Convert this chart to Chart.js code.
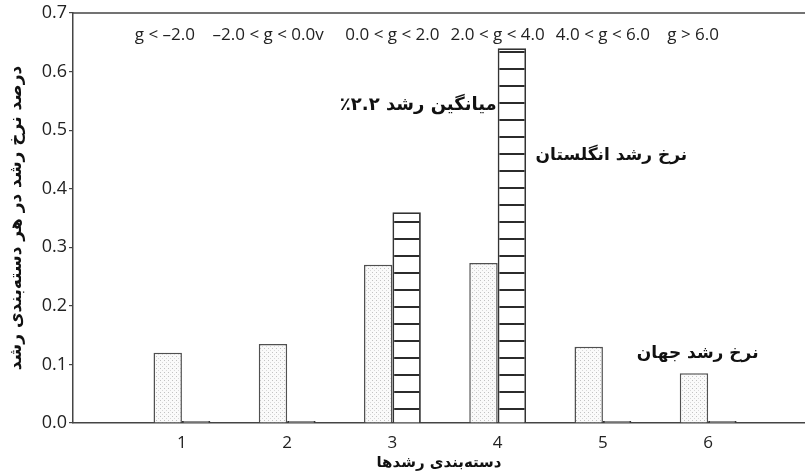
<!DOCTYPE html>
<html><head><meta charset="utf-8">
<script src="https://cdn.jsdelivr.net/npm/chart.js@4.4.1/dist/chart.umd.min.js"></script>
<style>html,body{margin:0;padding:0;background:#fff}#wrap{width:805px;height:474px;position:relative}canvas{display:block}</style>
</head><body><div id="wrap"><canvas id="c" width="805" height="474"></canvas></div>
<script>
// ---- data ----
const categories = [1, 2, 3, 4, 5, 6];
const tickLabels = ['1', '2', '3', '4', '5', '6'];
const rangeLabels = ['g < –2.0', '–2.0 < g < 0.0v', '0.0 < g < 2.0', '2.0 < g < 4.0', '4.0 < g < 6.0', 'g > 6.0'];
const worldShare = [0.12, 0.135, 0.27, 0.273, 0.13, 0.085];
const ukShare = [0, 0, 0.36, 0.64, 0, 0];
const yTickValues = [0, 0.1, 0.2, 0.3, 0.4, 0.5, 0.6, 0.7];
const yTitle = 'درصد نرخ رشد در هر دسته‌بندی رشد';
const xTitle = 'دسته‌بندی رشدها';
const averageLabel = 'میانگین رشد ۲.۲٪';
const ukLabel = 'نرخ رشد انگلستان';
const worldLabel = 'نرخ رشد جهان';

// ---- fill patterns ----
function stipple() {
  const c = document.createElement('canvas'); c.width = 4; c.height = 4;
  const g = c.getContext('2d');
  g.fillStyle = '#fafafa'; g.fillRect(0, 0, 4, 4);
  g.fillStyle = '#c2c2c2'; g.fillRect(0, 0, 1, 1);
  g.fillStyle = '#d8d8d8'; g.fillRect(2, 2, 1, 1);
  return g.createPattern(c, 'repeat');
}
function hatch() {
  const c = document.createElement('canvas'); c.width = 8; c.height = 17;
  const g = c.getContext('2d');
  g.fillStyle = '#ffffff'; g.fillRect(0, 0, 8, 17);
  g.fillStyle = '#2b2b2b'; g.fillRect(0, 0, 8, 2);
  return g.createPattern(c, 'repeat');
}

const AR = '"DejaVu Sans", sans-serif';
const LAT = '"Open Sans", sans-serif';
// small horizontal nudges (px) so the range captions don't collide
const rangeNudge = [-17, -19, 0, 0, 0, -15];

const annotationPlugin = {
  id: 'annots',
  afterDatasetsDraw(chart) {
    const {ctx, chartArea, scales: {x, y}} = chart;
    ctx.save();
    ctx.strokeStyle = '#444'; ctx.lineWidth = 1.5;
    ctx.beginPath(); ctx.moveTo(chartArea.left, chartArea.top); ctx.lineTo(chartArea.right, chartArea.top); ctx.stroke();
    ctx.fillStyle = '#222';
    ctx.font = '17px ' + LAT;
    ctx.textAlign = 'center'; ctx.textBaseline = 'middle';
    categories.forEach((c, i) => ctx.fillText(rangeLabels[i], x.getPixelForValue(c) + rangeNudge[i], y.getPixelForValue(0.663)));
    ctx.direction = 'rtl';
    ctx.fillStyle = '#111';
    ctx.font = 'bold 18px ' + AR;
    ctx.textAlign = 'right';
    ctx.fillText(averageLabel, x.getPixelForValue(4) - 1, y.getPixelForValue(0.542));
    ctx.font = 'bold 17px ' + AR;
    ctx.textAlign = 'center';
    ctx.fillText(ukLabel, x.getPixelForValue(5.08), y.getPixelForValue(0.457));
    ctx.fillText(worldLabel, x.getPixelForValue(5.9), y.getPixelForValue(0.119));
    ctx.restore();
  }
};

new Chart(document.getElementById('c'), {
  type: 'bar',
  data: {
    datasets: [
      {
        label: worldLabel,
        data: categories.map((c, i) => ({x: c, y: worldShare[i]})),
        backgroundColor: stipple(),
        borderColor: '#505050', borderWidth: 1.5, borderSkipped: 'bottom',
        categoryPercentage: 0.54, barPercentage: 1.0
      },
      {
        label: ukLabel,
        data: categories.map((c, i) => ({x: c, y: ukShare[i]})),
        backgroundColor: hatch(),
        borderColor: '#333', borderWidth: 1.8, borderSkipped: 'bottom',
        minBarLength: 2,
        categoryPercentage: 0.54, barPercentage: 1.0
      }
    ]
  },
  options: {
    responsive: false, animation: false,
    devicePixelRatio: 1,
    layout: {padding: {top: 13, right: 0, left: 0, bottom: 0}},
    plugins: {legend: {display: false}, tooltip: {enabled: false}},
    scales: {
      x: {
        type: 'linear', min: -0.035, max: 6.92, offset: false,
        afterBuildTicks: s => { s.ticks = categories.map(v => ({value: v})); },
        afterFit: s => { s.height = 51; },
        grid: {display: false},
        border: {display: true, color: '#444', width: 1.5},
        ticks: {
          callback: v => tickLabels[categories.indexOf(v)],
          font: {family: LAT, size: 17}, color: '#222', padding: 2, maxRotation: 0
        },
        title: {display: true, text: xTitle, font: {family: AR, size: 15, weight: 'bold'}, color: '#111', padding: {top: 0, bottom: 2}}
      },
      y: {
        min: 0, max: 0.7,
        afterBuildTicks: s => { s.ticks = yTickValues.map(v => ({value: v})); },
        afterFit: s => { s.width = 73; },
        grid: {display: true, drawOnChartArea: false, drawTicks: true, tickLength: 4, color: '#444', lineWidth: 1.2},
        border: {display: true, color: '#444', width: 1.5},
        ticks: {
          callback: v => v.toFixed(1),
          font: {family: LAT, size: 18}, color: '#222', padding: 2
        },
        title: {display: true, text: yTitle, font: {family: AR, size: 17, weight: 'bold'}, color: '#111', padding: {top: 6, bottom: 4}}
      }
    }
  },
  plugins: [annotationPlugin]
});
</script>
</body></html>
